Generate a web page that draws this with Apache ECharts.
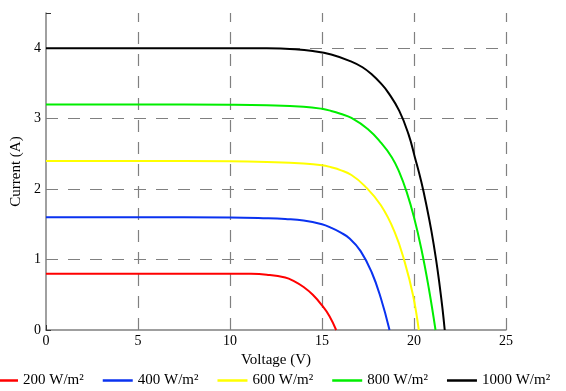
<!DOCTYPE html>
<html><head><meta charset="utf-8">
<script src="https://cdn.jsdelivr.net/npm/echarts@6/dist/echarts.min.js"></script>
<style>html,body{margin:0;padding:0;background:#fff}#c{width:566px;height:391px}</style>
</head><body><div id="c"></div>
<script>
const seriesNames = ['200 W/m²', '400 W/m²', '600 W/m²', '800 W/m²', '1000 W/m²'];
const seriesColors = ['#ff0000', '#0a32f0', '#ffff00', '#00ee00', '#000000'];
const xTicks = [5, 10, 15, 20, 25];
const yTicks = [1, 2, 3, 4];
const curve200 = [[0,0.80],[5,0.80],[10,0.80],[11,0.798],[12,0.785],[13,0.745],[13.5,0.69],[14,0.61],[14.5,0.50],[15,0.35],[15.4,0.20],[15.77,0]];
const curve400 = [[0,1.60],[5,1.60],[10,1.598],[12,1.588],[13,1.577],[14,1.555],[15,1.50],[15.5,1.45],[16,1.385],[16.5,1.30],[17.1,1.12],[17.7,0.82],[18.2,0.45],[18.67,0]];
const curve600 = [[0,2.40],[5,2.40],[10,2.395],[12,2.385],[14,2.365],[15,2.34],[15.5,2.31],[16,2.27],[16.6,2.20],[17.3,2.05],[18.2,1.77],[18.95,1.39],[19.5,0.96],[19.95,0.49],[20.26,0]];
const curve800 = [[0,3.20],[5,3.20],[10,3.197],[12,3.19],[14,3.17],[15,3.14],[15.5,3.11],[16,3.07],[16.6,3.01],[17.5,2.85],[18.2,2.66],[18.8,2.45],[19.2,2.24],[19.6,1.96],[20.0,1.60],[20.4,1.15],[20.8,0.60],[21.17,0]];
const curve1000 = [[0,4.00],[5,4.00],[10,4.00],[12,3.998],[13.5,3.985],[14.5,3.96],[15.5,3.91],[16.6,3.81],[17.2,3.73],[17.7,3.63],[18.2,3.50],[18.6,3.37],[19.2,3.11],[19.7,2.78],[20.05,2.45],[20.4,2.10],[20.7,1.74],[20.95,1.40],[21.2,1.00],[21.4,0.62],[21.55,0.30],[21.67,0]];
const curves = [curve200, curve400, curve600, curve800, curve1000];

const font = 'Liberation Serif';
const chart = echarts.init(document.getElementById('c'));
const gridLine = {color: '#808080', width: 1.2, type: [12, 10]};
const series = curves.map((d, i) => ({
  name: seriesNames[i], type: 'line', data: d, symbol: 'none', smooth: 0.45,
  lineStyle: {color: seriesColors[i], width: 2}, itemStyle: {color: seriesColors[i]},
  z: 3
}));
series.push({
  type: 'line', data: [], silent: true, z: 1,
  markLine: {
    silent: true, symbol: 'none', label: {show: false}, z: 1,
    lineStyle: gridLine,
    data: xTicks.map(v => ({xAxis: v})).concat(yTicks.map(v => ({yAxis: v})))
  }
});
chart.setOption({
  animation: false,
  textStyle: {fontFamily: font},
  grid: {left: 46, right: 60, top: 13, bottom: 61},
  legend: {
    data: seriesNames, left: -17, top: 368, icon: 'rect', itemWidth: 30, itemHeight: 2.5,
    itemGap: 19, textStyle: {fontFamily: font, fontSize: 15, color: '#000'}
  },
  xAxis: {
    type: 'value', min: 0, max: 25, interval: 5,
    name: 'Voltage (V)', nameLocation: 'middle', nameGap: 17,
    nameTextStyle: {fontFamily: font, fontSize: 15, color: '#000'},
    axisLine: {show: true, lineStyle: {color: '#808080', width: 1.5}},
    axisTick: {show: true, inside: true, length: 5, lineStyle: {color: '#333'}},
    axisLabel: {fontFamily: font, fontSize: 14, color: '#000', margin: 4},
    splitLine: {show: false}
  },
  yAxis: {
    type: 'value', min: 0, max: 4.5, interval: 1,
    name: 'Current (A)', nameLocation: 'middle', nameGap: 21,
    nameTextStyle: {fontFamily: font, fontSize: 15, color: '#000'},
    axisLine: {show: true, lineStyle: {color: '#808080', width: 1.5}},
    axisTick: {show: true, inside: true, length: 5, lineStyle: {color: '#333'}},
    axisLabel: {fontFamily: font, fontSize: 14, color: '#000', margin: 5,
      formatter: v => (Number.isInteger(v) ? String(v) : '')},
    splitLine: {show: false}
  },
  series: series
});
</script></body></html>
